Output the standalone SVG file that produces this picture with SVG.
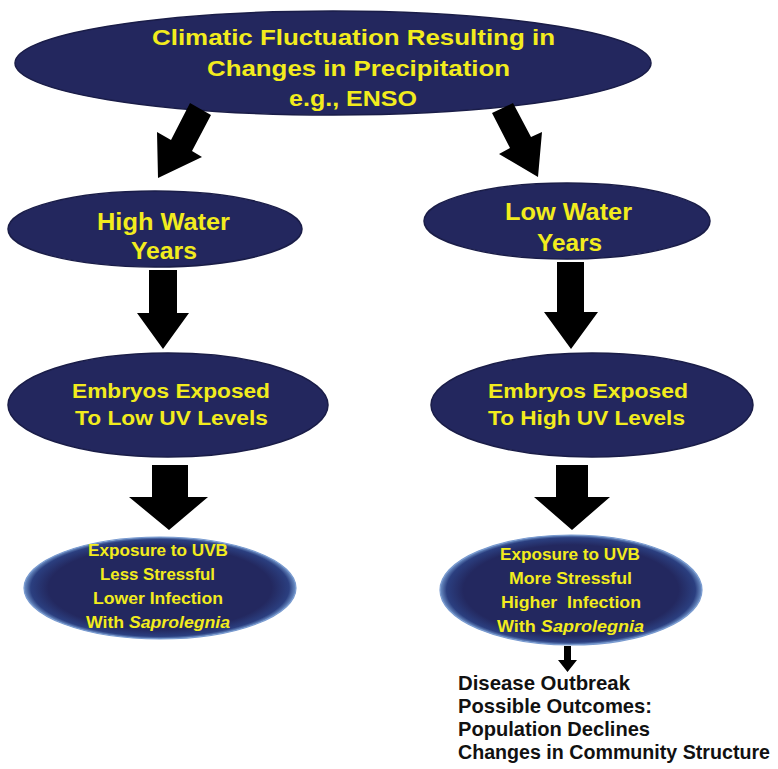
<svg xmlns="http://www.w3.org/2000/svg" width="778" height="769" viewBox="0 0 778 769">
<defs>
<radialGradient id="rim" cx="50%" cy="50%" r="50%">
<stop offset="0.82" stop-color="#23285f"/>
<stop offset="0.95" stop-color="#2b3f80"/>
<stop offset="1" stop-color="#6f93c8"/>
</radialGradient>
</defs>
<style>
.node{fill:#23275e;stroke:#1a1d48;stroke-width:1.5}
.node2{fill:url(#rim);stroke:#7a9bd0;stroke-width:1.2}
.yt{fill:#f2ec1d;font-family:"Liberation Sans Narrow","Liberation Sans",Arial,sans-serif;font-weight:bold;text-anchor:start}
.ys{fill:#f2ec1d;font-family:"Liberation Sans",Arial,sans-serif;font-weight:bold;font-size:16px}
.bt{fill:#111;font-family:"Liberation Sans",Arial,sans-serif;font-weight:bold;font-size:21px}
.bt2{fill:#111;font-family:"Liberation Sans",Arial,sans-serif;font-weight:bold;font-size:19.5px}
.arr{fill:#000}
</style>
<rect width="778" height="769" fill="#fff"/>

<g id="climate">
<ellipse class="node" cx="333" cy="63" rx="318" ry="52"/>
<text class="yt" font-size="22" x="152" y="45" textLength="403" lengthAdjust="spacingAndGlyphs">Climatic Fluctuation Resulting in</text>
<text class="yt" font-size="22" x="207" y="76" textLength="303" lengthAdjust="spacingAndGlyphs">Changes in Precipitation</text>
<text class="yt" font-size="22" x="289" y="106" textLength="128" lengthAdjust="spacingAndGlyphs">e.g., ENSO</text>
</g>

<g id="high-water">
<ellipse class="node" cx="155" cy="229" rx="147" ry="38"/>
<text class="yt" font-size="24" x="97" y="230" textLength="133" lengthAdjust="spacingAndGlyphs">High Water</text>
<text class="yt" font-size="24" x="131" y="259" textLength="66" lengthAdjust="spacingAndGlyphs">Years</text>
</g>

<g id="low-water">
<ellipse class="node" cx="567" cy="221" rx="143" ry="38"/>
<text class="yt" font-size="24" x="505" y="220" textLength="127" lengthAdjust="spacingAndGlyphs">Low Water</text>
<text class="yt" font-size="24" x="537" y="251" textLength="65" lengthAdjust="spacingAndGlyphs">Years</text>
</g>

<g id="low-uv">
<ellipse class="node" cx="168" cy="405" rx="160" ry="52"/>
<text class="yt" font-size="20" x="72" y="398" textLength="198" lengthAdjust="spacingAndGlyphs">Embryos Exposed</text>
<text class="yt" font-size="20" x="75" y="425" textLength="193" lengthAdjust="spacingAndGlyphs">To Low UV Levels</text>
</g>

<g id="high-uv">
<ellipse class="node" cx="592" cy="405" rx="161" ry="52"/>
<text class="yt" font-size="20" x="488" y="398" textLength="200" lengthAdjust="spacingAndGlyphs">Embryos Exposed</text>
<text class="yt" font-size="20" x="488" y="425" textLength="197" lengthAdjust="spacingAndGlyphs">To High UV Levels</text>
</g>

<g id="less-stress">
<ellipse class="node2" cx="160" cy="588" rx="136" ry="51"/>
<text class="ys" x="88" y="556" textLength="140" lengthAdjust="spacingAndGlyphs">Exposure to UVB</text>
<text class="ys" x="100" y="580" textLength="115" lengthAdjust="spacingAndGlyphs">Less Stressful</text>
<text class="ys" x="93" y="604" textLength="130" lengthAdjust="spacingAndGlyphs">Lower Infection</text>
<text class="ys" x="86" y="628" textLength="144" lengthAdjust="spacingAndGlyphs">With <tspan font-style="italic">Saprolegnia</tspan></text>
</g>

<g id="more-stress">
<ellipse class="node2" cx="571" cy="590" rx="131" ry="55"/>
<text class="ys" x="500" y="560" textLength="140" lengthAdjust="spacingAndGlyphs">Exposure to UVB</text>
<text class="ys" x="509" y="584" textLength="123" lengthAdjust="spacingAndGlyphs">More Stressful</text>
<text class="ys" x="501" y="608" textLength="140" lengthAdjust="spacingAndGlyphs" xml:space="preserve">Higher  Infection</text>
<text class="ys" x="497" y="632" textLength="147" lengthAdjust="spacingAndGlyphs">With <tspan font-style="italic">Saprolegnia</tspan></text>
</g>

<g id="outcomes">
<text class="bt" x="458" y="690" textLength="172" lengthAdjust="spacingAndGlyphs">Disease Outbreak</text>
<text class="bt" x="458" y="713" textLength="194" lengthAdjust="spacingAndGlyphs">Possible Outcomes:</text>
<text class="bt" x="458" y="736" textLength="192" lengthAdjust="spacingAndGlyphs">Population Declines</text>
<text class="bt2" x="458" y="759" textLength="312" lengthAdjust="spacingAndGlyphs">Changes in Community Structure</text>
</g>

<g id="connectors">
<polygon class="arr" points="190,103 211,115 192,151 202,157 158,178 157,132 171,140"/>
<polygon class="arr" points="492,113 513,103 531,137 542,132 538,177 499,154 510,148"/>
<polygon class="arr" points="149,270 177,270 177,313 189,313 163,349 137,313 149,313"/>
<polygon class="arr" points="557,262 584,262 584,312 598,312 571,349 544,312 557,312"/>
<polygon class="arr" points="152,465 188,465 188,497 208,497 169,530 129,497 152,497"/>
<polygon class="arr" points="556,465 588,465 588,497 610,497 572,530 534,497 556,497"/>
<polygon class="arr" points="564,646 571,646 571,660 577,660 567.5,672 558,660 564,660"/>
</g>
</svg>
